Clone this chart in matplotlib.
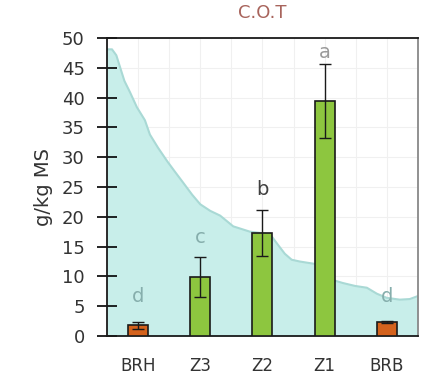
import matplotlib
matplotlib.use("Agg")
import matplotlib.pyplot as plt
import numpy as np

categories = ["BRH", "Z3", "Z2", "Z1", "BRB"]
values = [1.8, 9.9, 17.3, 39.4, 2.4]
errors = [0.6, 3.3, 3.8, 6.2, 0.15]
letters = ["d", "c", "b", "a", "d"]
letter_y = [6.6, 16.5, 24.6, 47.5, 6.6]
bar_colors = ["#d4621c", "#8dc63f", "#8dc63f", "#8dc63f", "#d4621c"]
letter_colors = ["#86aeac", "#86aeac", "#404040", "#9a9a9a", "#86aeac"]

# background profile (teal area)
curve_x = [-0.50, -0.42, -0.35, -0.29, -0.22, -0.13, -0.02, 0.11, 0.19, 0.32, 0.47,
           0.59, 0.72, 0.87, 1.00, 1.16, 1.32, 1.53, 1.80, 2.04, 2.15, 2.25, 2.36,
           2.47, 2.60, 2.84, 3.00, 3.13, 3.29, 3.49, 3.68, 3.84, 4.00, 4.21, 4.37, 4.50]
curve_y = [48.1, 48.1, 47.1, 45.1, 42.8, 40.9, 38.4, 36.2, 33.8, 31.6, 29.3,
           27.6, 25.8, 23.7, 22.1, 21.0, 20.2, 18.4, 17.5, 17.2, 16.7, 15.3, 13.8,
           12.8, 12.5, 12.1, 11.4, 9.4, 8.9, 8.4, 8.1, 7.1, 6.4, 6.1, 6.2, 6.7]

yticks = [0, 5, 10, 15, 20, 25, 30, 35, 40, 45, 50]

fig = plt.figure(figsize=(4.27, 3.82), dpi=100)
ax = fig.add_axes([0.2506, 0.1204, 0.728, 0.7801])

x = np.arange(len(categories))

# faint grid
for gx in np.arange(-0.5, 4.51, 0.5):
    ax.axvline(gx, color="#f0f0f0", lw=0.8, zorder=0)
for gy in yticks:
    ax.axhline(gy, color="#f0f0f0", lw=0.8, zorder=0)

ax.fill_between(curve_x, curve_y, 0, color="#c8eeea", zorder=1, lw=0)
ax.plot(curve_x, curve_y, color="#a9d9d5", lw=1.5, zorder=1.5)

ax.bar(x, values, width=0.32, color=bar_colors, edgecolor="#1a1a1a", linewidth=1.2, zorder=3)
ax.errorbar(x, values, yerr=errors, fmt="none", ecolor="#1a1a1a", elinewidth=1.0,
            capsize=4, capthick=1.0, zorder=4)

for xi, t, ly, c in zip(x, letters, letter_y, letter_colors):
    ax.text(xi, ly, t, ha="center", va="center", fontsize=14, color=c, zorder=5)

ax.set_xlim(-0.5, 4.5)
ax.set_ylim(0, 50)
ax.set_yticks(yticks)
ax.set_xticks(x)
ax.set_xticklabels(categories, fontsize=12, color="#333333")
ax.tick_params(axis="x", length=0, pad=15)
ax.tick_params(axis="y", direction="inout", length=14, width=1.2, labelsize=13,
               labelcolor="#333333", pad=9)

for s in ["left", "bottom", "top"]:
    ax.spines[s].set_color("#1a1a1a")
    ax.spines[s].set_linewidth(1.3)
ax.spines["right"].set_color("#888888")
ax.spines["right"].set_linewidth(1.3)

ax.set_ylabel("g/kg MS", fontsize=14, color="#333333", labelpad=6)
fig.text(0.614, 0.965, "C.O.T", ha="center", va="center", fontsize=13, color="#a8645c")

fig.savefig("out.png", dpi=100)
